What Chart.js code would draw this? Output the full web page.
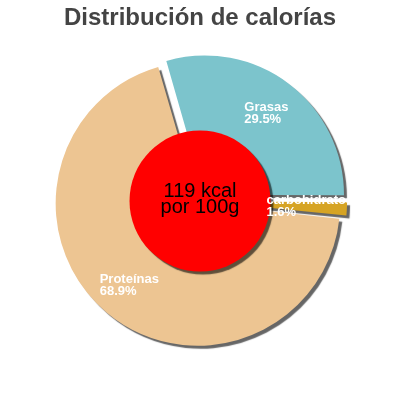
<!DOCTYPE html>
<html>
<head>
<meta charset="utf-8">
<script src="https://cdn.jsdelivr.net/npm/chart.js@4.4.0/dist/chart.umd.min.js"></script>
<style>
  html, body { margin: 0; padding: 0; background: #fff; }
  #wrap { width: 400px; height: 400px; }
</style>
</head>
<body>
<div id="wrap"><canvas id="kcal-chart" width="400" height="400"></canvas></div>
<script>
// values
var nutrients = ['Grasas', 'carbohidratos', 'Proteínas'];
var percents = [29.5, 1.6, 68.9];
var kcalText = ['119 kcal', 'por 100g'];
var titleText = 'Distribución de calorías';

var sliceColors = ['#7cc4cc', '#d6a424', '#edc592'];
// Chart.js scales the offset down by slice size; these give ~7-8px each
var sliceOffsets = [31, 17, 13];

function setShadow(ctx) {
	ctx.shadowColor = 'rgba(0,0,0,0.6)';
	ctx.shadowOffsetX = 3;
	ctx.shadowOffsetY = 3;
	ctx.shadowBlur = 1;
}

var overlay = {
	id: 'overlay',
	beforeDatasetsDraw: function(chart) {
		chart.ctx.save();
		setShadow(chart.ctx);
	},
	afterDatasetsDraw: function(chart) {
		var ctx = chart.ctx;
		ctx.restore();

		var arcs = chart.getDatasetMeta(0).data;
		var cx = arcs[0].x;
		var cy = arcs[0].y;

		// red centre disc
		ctx.save();
		setShadow(ctx);
		ctx.beginPath();
		ctx.arc(cx, cy, 70.5, 0, Math.PI * 2);
		ctx.fillStyle = '#ff0000';
		ctx.fill();
		ctx.restore();

		ctx.save();
		ctx.fillStyle = '#000';
		ctx.font = '20px "Liberation Sans", Arial, sans-serif';
		ctx.textAlign = 'center';
		ctx.fillText(kcalText[0], cx, cy - 4);
		ctx.fillText(kcalText[1], cx, cy + 12);
		ctx.restore();

		// slice labels, centred on each slice's middle angle
		ctx.save();
		ctx.beginPath();
		ctx.rect(0, 0, 347, 400);
		ctx.clip();
		ctx.fillStyle = '#ffffff';
		ctx.font = 'bold 13px "Liberation Sans", Arial, sans-serif';
		ctx.textAlign = 'left';
		arcs.forEach(function(a, i) {
			var mid = (a.startAngle + a.endAngle) / 2;
			var lx = cx + Math.cos(mid) * 110;
			var ly = cy + Math.sin(mid) * 110;
			var l1 = nutrients[i];
			var l2 = percents[i].toFixed(1) + '%';
			var w = Math.max(ctx.measureText(l1).width, ctx.measureText(l2).width);
			ctx.fillText(l1, lx - w / 2, ly - 2.5);
			ctx.fillText(l2, lx - w / 2, ly + 9.5);
		});
		ctx.restore();
	}
};

var ctx = document.getElementById('kcal-chart').getContext('2d');
var kcalChart = new Chart(ctx, {
	type: 'pie',
	data: {
		labels: nutrients,
		datasets: [{
			data: percents,
			backgroundColor: sliceColors,
			borderWidth: 0,
			offset: sliceOffsets,
			clip: false
		}]
	},
	options: {
		responsive: false,
		animation: false,
		radius: 139,
		rotation: -16,
		layout: { padding: { top: 0, bottom: 30.8, left: 0, right: 0 } },
		plugins: {
			legend: { display: false },
			tooltip: { enabled: false },
			title: {
				display: true,
				text: titleText,
				color: '#444444',
				font: { family: '"Liberation Sans", Arial, sans-serif', size: 24, weight: 'bold', lineHeight: 1.2 },
				padding: { top: 4, bottom: 0 }
			}
		}
	},
	plugins: [overlay]
});
</script>
</body>
</html>
